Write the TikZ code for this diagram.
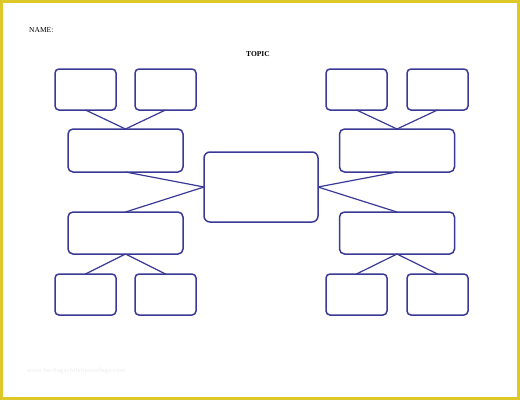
\documentclass[tikz,border=0pt]{standalone}
\usepackage{fontspec}
\setmainfont{Liberation Serif}
\definecolor{boxblue}{RGB}{58,58,150}
\definecolor{frameyellow}{RGB}{222,200,40}
\begin{document}
\begin{tikzpicture}[x=1pt,y=-1pt,
  small/.style={draw=boxblue,line width=1.5pt,rounded corners=4pt,minimum width=61pt,minimum height=41pt,inner sep=0pt,outer sep=0pt},
  mid/.style={draw=boxblue,line width=1.5pt,rounded corners=5pt,minimum width=115pt,minimum height=43pt,inner sep=0pt,outer sep=0pt},
  link/.style={draw=boxblue,line width=1.2pt},
  lbl/.style={font=\fontsize{7.5}{9}\selectfont,inner sep=0pt}]
\useasboundingbox (0,0) rectangle (520,400);
\fill[white] (0,0) rectangle (520,400);
\draw[frameyellow,line width=2.6pt] (1.3,1.3) rectangle (518.7,398.7);

\node[lbl,anchor=west] (name) at (29,30) {NAME:};
\node[lbl,font=\fontsize{7.5}{9}\selectfont\bfseries] (topic) at (258,54) {TOPIC};
\node[font=\sffamily\fontsize{6.6}{8}\selectfont,text=black!7,anchor=west,inner sep=0pt] (wm) at (27,371) {www.heritagechristiancollege.com};

% center
\node[draw=boxblue,line width=1.5pt,rounded corners=6pt,minimum width=114pt,minimum height=70pt,inner sep=0pt,outer sep=0pt] (c) at (261,187) {};

% left side
\node[small] (tl1) at (85.5,89.5) {};
\node[small] (tl2) at (165.5,89.5) {};
\node[mid] (ml1) at (125.5,150.5) {};
\node[mid,minimum height=42pt] (ml2) at (125.5,233) {};
\node[small] (bl1) at (85.5,294.5) {};
\node[small] (bl2) at (165.5,294.5) {};

% right side
\node[small] (tr1) at (356.5,89.5) {};
\node[small] (tr2) at (437.5,89.5) {};
\node[mid] (mr1) at (397,150.5) {};
\node[mid,minimum height=42pt] (mr2) at (397,233) {};
\node[small] (br1) at (356.5,294.5) {};
\node[small] (br2) at (437.5,294.5) {};

% connectors left
\draw[link] (tl1.south) -- (ml1.north);
\draw[link] (tl2.south) -- (ml1.north);
\draw[link] (ml1.south) -- (c.west);
\draw[link] (ml2.north) -- (c.west);
\draw[link] (ml2.south) -- (bl1.north);
\draw[link] (ml2.south) -- (bl2.north);

% connectors right
\draw[link] (tr1.south) -- (mr1.north);
\draw[link] (tr2.south) -- (mr1.north);
\draw[link] (mr1.south) -- (c.east);
\draw[link] (mr2.north) -- (c.east);
\draw[link] (mr2.south) -- (br1.north);
\draw[link] (mr2.south) -- (br2.north);
\end{tikzpicture}
\end{document}
